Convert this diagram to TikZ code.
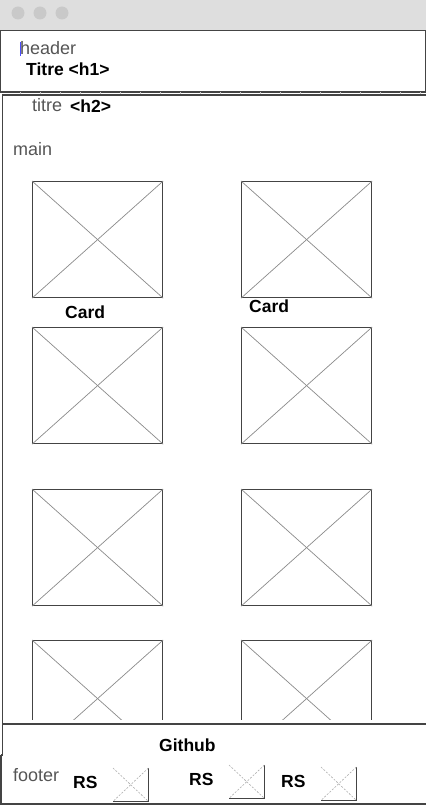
\documentclass[tikz,border=0pt]{standalone}
\usepackage{fontspec}
\setmainfont{Liberation Sans}
\definecolor{barfill}{HTML}{DEDEDE}
\definecolor{dotfill}{HTML}{C9C9C9}
\definecolor{boxline}{HTML}{444444}
\definecolor{crossline}{HTML}{8A8A8A}
\definecolor{graytext}{HTML}{555555}
\tikzset{
    imgbox/.style={draw=boxline, line width=1.2pt, minimum width=130pt, minimum height=116pt, inner sep=0pt, anchor=north west},
    cross/.style={draw=crossline, line width=0.7pt},
    tag/.style={anchor=base west, inner sep=0pt, text=graytext, font=\fontsize{18}{20}\selectfont},
    title/.style={anchor=base west, inner sep=0pt, font=\fontsize{17.5}{20}\selectfont\bfseries},
    rsicon/.style={minimum width=35pt, minimum height=33pt, inner sep=0pt, anchor=north west}
}
\begin{document}
\begin{tikzpicture}[x=1pt, y=-1pt]
    \useasboundingbox (0,0) rectangle (426,805);

    % window bar
    \fill[barfill] (0,0) rectangle (426,30);
    \foreach \cx [count=\i] in {18,40,62}
        \fill[dotfill] (\cx,13) circle[radius=6.5pt];

    % header
    \draw[boxline, line width=1.2pt] (0.6,30.5) rectangle (425.4,92);
    \draw[blue!70, line width=0.6pt] (20.5,42) -- (20.5,56);
    \node[tag] (header) at (20,55) {header};
    \node[title] (h1) at (26,76) {Titre <h1>};
    \foreach \tx in {20,40,...,420}
        \draw[black!20, line width=0.5pt] (\tx,92.5) -- (\tx,94.5);

    % main
    \draw[boxline, line width=1.2pt] (426,95) -- (2.8,95) -- (2.8,755) -- (1,755);
    \draw[boxline, line width=1.2pt] (3,724) -- (426,724);
    \node[tag] (titre) at (32,111.5) {titre};
    \node[title] (h2) at (70,113) {<h2>};
    \node[tag] (main) at (13,155.5) {main};

    \foreach \r/\y in {1/181, 2/327, 3/489} {
        \foreach \c/\x in {1/32, 2/241} {
            \node[imgbox] (img-\r-\c) at (\x,\y) {};
            \draw[cross] (img-\r-\c.north west) -- (img-\r-\c.south east);
            \draw[cross] (img-\r-\c.north east) -- (img-\r-\c.south west);
        }
    }
    \begin{scope}
        \clip (0,600) rectangle (426,719);
        \foreach \c/\x in {1/32, 2/241} {
            \node[imgbox] (img-4-\c) at (\x,640) {};
            \draw[cross] (img-4-\c.north west) -- (img-4-\c.south east);
            \draw[cross] (img-4-\c.north east) -- (img-4-\c.south west);
        }
    \end{scope}
    \node[title] (card-1) at (65,318.5) {Card};
    \node[title] (card-2) at (249,312.5) {Card};

    % footer
    \draw[boxline, line width=1.2pt] (1,755) -- (1,804) -- (426,804);
    \node[title] (github) at (159,751) {Github};
    \node[tag] (footer) at (13,781) {footer};
    \foreach \i/\lx/\ly/\ix/\iy in {1/73/788/113/768, 2/189/785/229/765, 3/281/787/321/767} {
        \node[title] (rs-\i) at (\lx,\ly) {RS};
        \node[rsicon] (icon-\i) at (\ix,\iy) {};
        \draw[boxline, line width=0.9pt] (icon-\i.north east) -- (icon-\i.south east) -- (icon-\i.south west);
        \draw[crossline!70, line width=0.6pt, dash pattern=on 2pt off 1.5pt] (icon-\i.north west) -- (icon-\i.south east);
        \draw[crossline!70, line width=0.6pt, dash pattern=on 2pt off 1.5pt] (icon-\i.north east) -- (icon-\i.south west);
    }
\end{tikzpicture}
\end{document}
